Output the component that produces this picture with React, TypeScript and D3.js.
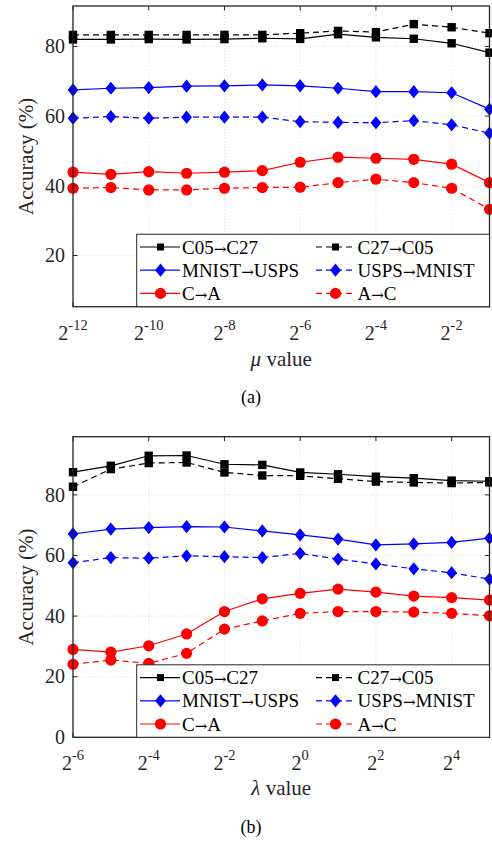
import React from "react";
import * as d3 from "d3";

// ---------- data ----------
const muExps = [-12, -11, -10, -9, -8, -7, -6, -5, -4, -3, -2, -1];
const muC05C27 = [82.0, 82.0, 82.1, 82.0, 82.1, 82.35, 82.15, 83.5, 82.6, 82.2, 80.9, 78.2];
const muC27C05 = [83.3, 83.3, 83.3, 83.3, 83.3, 83.3, 83.8, 84.45, 84.1, 86.4, 85.5, 83.8];
const muMnistUsps = [67.5, 68.0, 68.2, 68.6, 68.7, 68.95, 68.7, 68.0, 67.0, 67.0, 66.7, 62.0];
const muUspsMnist = [59.4, 59.85, 59.4, 59.7, 59.7, 59.7, 58.4, 58.2, 58.1, 58.7, 57.5, 55.1];
const muCA = [43.9, 43.3, 44.05, 43.6, 43.9, 44.35, 46.75, 48.2, 47.9, 47.6, 46.2, 40.9];
const muAC = [39.3, 39.5, 38.8, 38.8, 39.3, 39.5, 39.6, 40.9, 41.9, 40.9, 39.3, 33.25];

const lamExps = [-6, -5, -4, -3, -2, -1, 0, 1, 2, 3, 4, 5];
const lamC05C27 = [87.5, 89.6, 92.9, 93.0, 90.1, 89.9, 87.4, 86.8, 86.0, 85.5, 84.7, 84.5];
const lamC27C05 = [82.7, 88.5, 90.5, 90.7, 87.4, 86.4, 86.3, 85.3, 84.4, 84.1, 83.9, 84.1];
const lamMnistUsps = [67.1, 68.7, 69.2, 69.5, 69.4, 68.1, 66.8, 65.4, 63.5, 63.8, 64.3, 65.7];
const lamUspsMnist = [57.6, 59.3, 59.1, 59.9, 59.6, 59.3, 60.7, 58.8, 57.2, 55.6, 54.3, 52.2];
const lamCA = [29.0, 28.1, 30.2, 34.1, 41.5, 45.7, 47.5, 48.9, 47.9, 46.6, 46.1, 45.3];
const lamAC = [24.1, 25.5, 24.4, 27.7, 35.7, 38.4, 40.9, 41.5, 41.5, 41.3, 40.9, 40.1];

const seriesNames = ["C05→C27", "C27→C05", "MNIST→USPS", "USPS→MNIST", "C→A", "A→C"];
const seriesColors = ["#000000", "#000000", "#0000ff", "#0000ff", "#ff0000", "#ff0000"];
const seriesDashed = [false, true, false, true, false, true];
const seriesMarkers = ["square", "square", "diamond", "diamond", "circle", "circle"];

const muXTicks = [-12, -10, -8, -6, -4, -2];
const muYTicks = [20, 40, 60, 80];
const lamXTicks = [-6, -4, -2, 0, 2, 4];
const lamYTicks = [0, 20, 40, 60, 80];

// ---------- layout ----------
const W = 492;
const H = 842;
const FONT = "Liberation Serif, DejaVu Serif, Noto Serif, Times New Roman, Times, serif";
const AX = "#262626";
const X0 = 73;
const X1 = 489.5;

type Panel = {
  top: number;
  bottom: number;
  yDomain: [number, number];
  exps: number[];
  series: number[][];
  xTicks: number[];
  yTicks: number[];
  symbol: string;
  caption: string;
  tickBase: number;
  labelBase: number;
  captionBase: number;
};

const panels: Panel[] = [
  {
    top: 6,
    bottom: 306.7,
    yDomain: [5.3, 91.6],
    exps: muExps,
    series: [muC05C27, muC27C05, muMnistUsps, muUspsMnist, muCA, muAC],
    xTicks: muXTicks,
    yTicks: muYTicks,
    symbol: "μ",
    caption: "(a)",
    tickBase: 340,
    labelBase: 366,
    captionBase: 403,
  },
  {
    top: 436.7,
    bottom: 737.3,
    yDomain: [0, 99.2],
    exps: lamExps,
    series: [lamC05C27, lamC27C05, lamMnistUsps, lamUspsMnist, lamCA, lamAC],
    xTicks: lamXTicks,
    yTicks: lamYTicks,
    symbol: "λ",
    caption: "(b)",
    tickBase: 770,
    labelBase: 795,
    captionBase: 833,
  },
];

function Marker({ kind, x, y, color, legend }: { kind: string; x: number; y: number; color: string; legend?: boolean }) {
  if (kind === "square") {
    const s = legend ? 7 : 8.4;
    return <rect x={x - s / 2} y={y - s / 2} width={s} height={s} fill={color} />;
  }
  if (kind === "diamond") {
    const w = 5.4;
    const h = 6.6;
    return <path d={`M${x},${y - h}L${x + w},${y}L${x},${y + h}L${x - w},${y}Z`} fill={color} />;
  }
  return <circle cx={x} cy={y} r={5.6} fill={color} />;
}

function Arrowed({ name }: { name: string }) {
  const parts = name.split("→");
  return (
    <>
      <tspan>{parts[0]}</tspan>
      <tspan fontFamily="DejaVu Serif, serif" fontSize={15}>→</tspan>
      <tspan>{parts[1]}</tspan>
    </>
  );
}

function PanelView({ p }: { p: Panel }) {
  const x = d3.scaleLinear().domain([p.exps[0], p.exps[p.exps.length - 1]]).range([X0, X1]);
  const y = d3.scaleLinear().domain(p.yDomain).range([p.bottom, p.top]);
  const line = d3
    .line<number>()
    .x((_, i) => x(p.exps[i]))
    .y((v) => y(v));
  const tl = 4.5;
  const legTop = p.bottom - 72.5;
  const rows = [p.bottom - 59.7, p.bottom - 36.5, p.bottom - 13.3];
  const cols = [
    { l0: 140, l1: 180, m: 160.5, t: 182 },
    { l0: 316, l1: 355, m: 335.5, t: 357.5 },
  ];
  const midY = (p.top + p.bottom) / 2;
  return (
    <g>
      {p.xTicks.map((t) => (
        <line key={"gx" + t} x1={x(t)} x2={x(t)} y1={p.top} y2={p.bottom} stroke="#d6d6d6" strokeWidth={0.8} strokeDasharray="1,2" />
      ))}
      {p.yTicks.map((t) => (
        <line key={"gy" + t} x1={X0} x2={X1} y1={y(t)} y2={y(t)} stroke="#d6d6d6" strokeWidth={0.8} strokeDasharray="1,2" />
      ))}
      {p.series.map((s, si) => (
        <g key={"s" + si}>
          <path
            d={line(s) || ""}
            fill="none"
            stroke={seriesColors[si]}
            strokeWidth={1.2}
            strokeDasharray={seriesDashed[si] ? "6,4" : undefined}
          />
          {s.map((v, i) => (
            <Marker key={i} kind={seriesMarkers[si]} x={x(p.exps[i])} y={y(v)} color={seriesColors[si]} />
          ))}
        </g>
      ))}
      <rect x={X0} y={p.top} width={X1 - X0} height={p.bottom - p.top} fill="none" stroke={AX} strokeWidth={1.3} />
      {p.xTicks.map((t) => (
        <g key={"tx" + t}>
          <line x1={x(t)} x2={x(t)} y1={p.bottom} y2={p.bottom - tl} stroke={AX} strokeWidth={1} />
          <line x1={x(t)} x2={x(t)} y1={p.top} y2={p.top + tl} stroke={AX} strokeWidth={1} />
          <text x={x(t)} y={p.tickBase} textAnchor="middle" fontFamily={FONT} fontSize={20} fill={AX}>
            <tspan>2</tspan>
            <tspan fontSize={14.5} dy={-10}>{String(t)}</tspan>
          </text>
        </g>
      ))}
      {p.yTicks.map((t) => (
        <g key={"ty" + t}>
          <line x1={X0} x2={X0 + tl} y1={y(t)} y2={y(t)} stroke={AX} strokeWidth={1} />
          <line x1={X1} x2={X1 - tl} y1={y(t)} y2={y(t)} stroke={AX} strokeWidth={1} />
          <text x={65} y={y(t)} dy="0.34em" textAnchor="end" fontFamily={FONT} fontSize={20} fill={AX}>
            {t}
          </text>
        </g>
      ))}
      <rect x={136.7} y={legTop} width={X1 - 136.7} height={p.bottom - legTop} fill="#ffffff" stroke={AX} strokeWidth={1} />
      {seriesNames.map((name, si) => {
        const r = Math.floor(si / 2);
        const c = cols[si % 2];
        const yy = rows[r];
        return (
          <g key={"lg" + si}>
            <line
              x1={c.l0}
              x2={c.l1}
              y1={yy}
              y2={yy}
              stroke={seriesColors[si]}
              strokeWidth={1.2}
              strokeDasharray={seriesDashed[si] ? "6,4" : undefined}
            />
            <Marker kind={seriesMarkers[si]} x={c.m} y={yy} color={seriesColors[si]} legend />
            <text x={c.t} y={yy} dy="0.35em" fontFamily={FONT} fontSize={19} fill="#000">
              <Arrowed name={name} />
            </text>
          </g>
        );
      })}
      <text
        transform={`translate(33,${midY}) rotate(-90)`}
        textAnchor="middle"
        fontFamily={FONT}
        fontSize={21}
        fill={AX}
      >
        Accuracy (%)
      </text>
      <text x={(X0 + X1) / 2} y={p.labelBase} textAnchor="middle" fontFamily={FONT} fontSize={21} fill={AX}>
        <tspan fontStyle="italic">{p.symbol}</tspan>
        <tspan> value</tspan>
      </text>
      <text x={251} y={p.captionBase} textAnchor="middle" fontFamily={FONT} fontSize={18} fill="#000">
        {p.caption}
      </text>
    </g>
  );
}

export default function App() {
  return (
    <svg
      width={W}
      height={H}
      viewBox={`0 0 ${W} ${H}`}
      style={{ position: "absolute", left: 0, top: 0, background: "#fff", fontFamily: FONT }}
    >
      <rect x={0} y={0} width={W} height={H} fill="#fff" />
      {panels.map((p, i) => (
        <PanelView key={i} p={p} />
      ))}
    </svg>
  );
}
